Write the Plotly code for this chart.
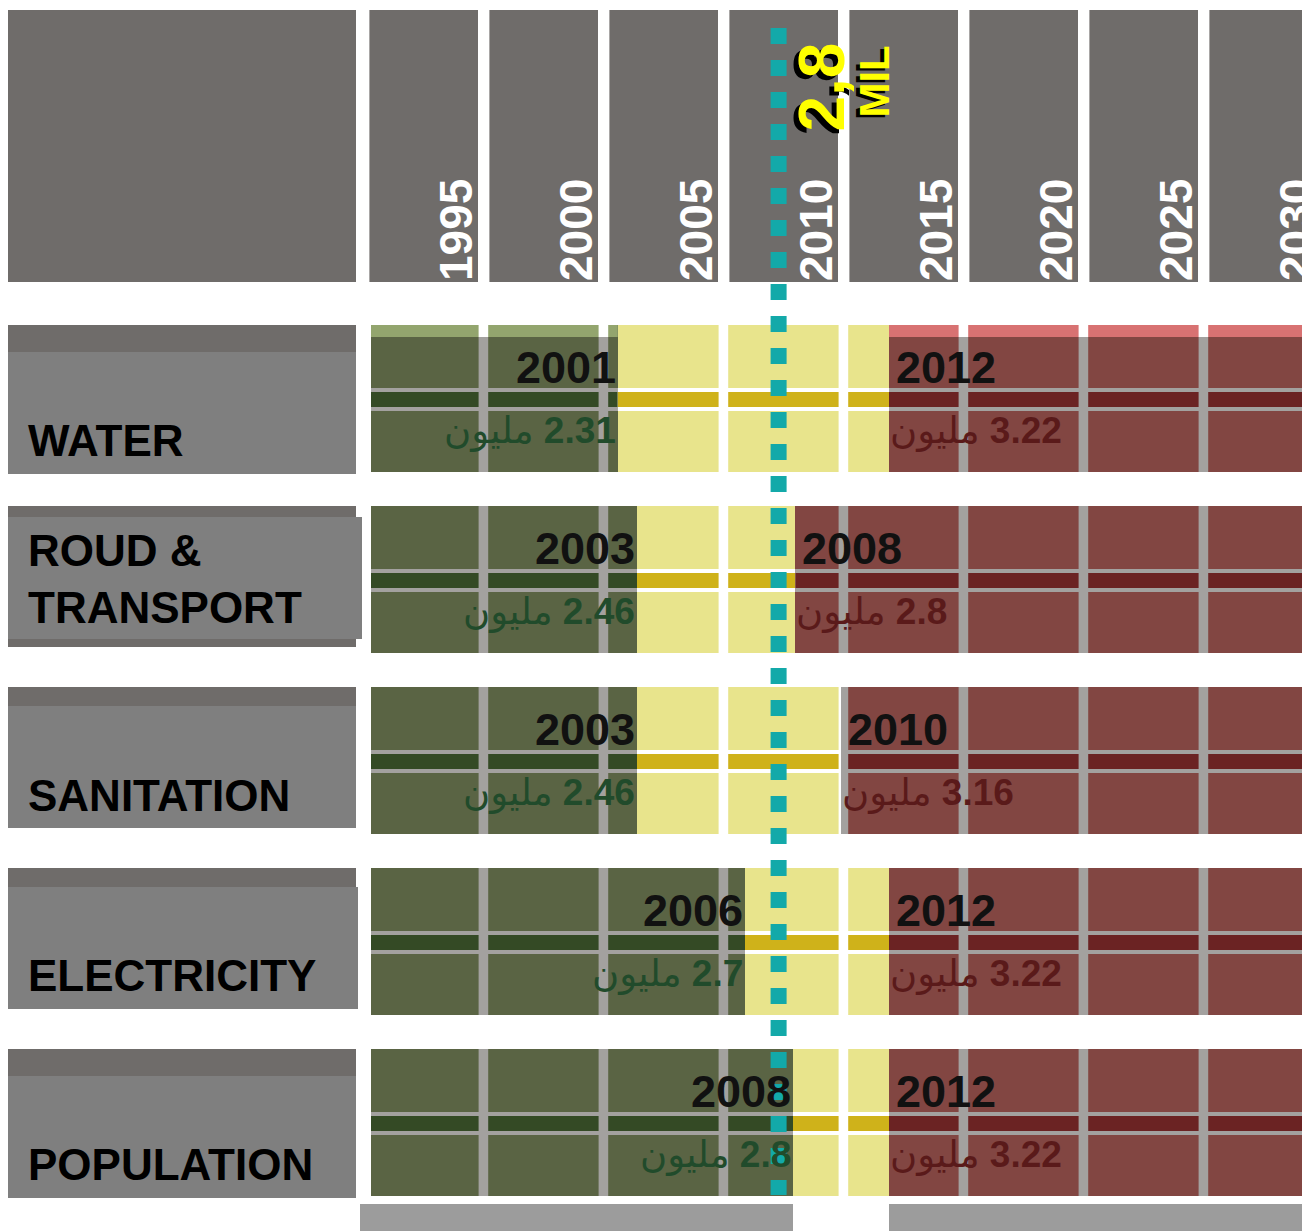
import plotly.graph_objects as go

W, H = 1302, 1231

# ---------------- data ----------------
categories = ["WATER", "ROUD &<br>TRANSPORT", "SANITATION", "ELECTRICITY", "POPULATION"]
start_year_labels = ["2001", "2003", "2003", "2006", "2008"]
start_values = ["2.31", "2.46", "2.46", "2.7", "2.8"]
end_year_labels = ["2012", "2008", "2010", "2012", "2012"]
end_values = ["3.22", "2.8", "3.16", "3.22", "3.22"]
# zone boundaries as they sit on the picture's year axis
green_end = [2000.7, 2001.5, 2001.5, 2006.0, 2008.0]
red_start = [2012.0, 2008.1, 2010.0, 2012.0, 2012.0]

axis_years = [1995, 2000, 2005, 2010, 2015, 2020, 2025, 2030]
marker_year = 2007.4
marker_text = "2,8"
marker_unit = "MIL"
unit_word = "مليون"

# ---------------- styles / layout constants ----------------
HEADER_GRAY = "#6f6c6a"
BOX_GRAY = "#7f7f7f"
GREEN = "#5a6444"
GREEN_BAND = "#344a25"
YELLOW = "#e8e48c"
YELLOW_BAND = "#cfb21a"
RED = "#824642"
RED_BAND = "#6b2323"
GRID = "#a3a19f"
CYAN = "#13a9a9"
FONT = "Liberation Sans, Arial, DejaVu Sans, sans-serif"

# pixel -> year mapping of the picture: 24 px per year, 2006 at x=745
PX_PER_YEAR = 24.0
X_RANGE = [2006 - 745 / PX_PER_YEAR, 2006 + (W - 745) / PX_PER_YEAR]
ROW_X0 = 2006 + (371 - 745) / PX_PER_YEAR
ROW_X1 = 2031

ROW_TOP0, ROW_STEP, ROW_H = 325, 181, 147
row_tops = [ROW_TOP0 + ROW_STEP * i for i in range(len(categories))]
row_centers = [t + ROW_H / 2 for t in row_tops]
label_dy = [115, 73, 108, 107, 115]
box_offset = [27, 11, 19, 19, 27]
dark_h = [27, 141, 19, 19, 27]
box_right = [356, 362, 356, 358, 356]
top_strip = [12, 0, 0, 0, 0]


def px(xp):
    return xp / W


def year_to_paper(y):
    return (y - X_RANGE[0]) / (X_RANGE[1] - X_RANGE[0])


fig = go.Figure()

# zone bars
n = len(categories)
fig.add_trace(go.Bar(orientation="h", y=row_centers, base=[ROW_X0] * n,
                     x=[g - ROW_X0 for g in green_end], width=ROW_H,
                     marker=dict(color=GREEN, line=dict(width=0)), hoverinfo="skip"))
fig.add_trace(go.Bar(orientation="h", y=row_centers, base=green_end,
                     x=[r - g for g, r in zip(green_end, red_start)], width=ROW_H,
                     marker=dict(color=YELLOW, line=dict(width=0)), hoverinfo="skip"))
fig.add_trace(go.Bar(orientation="h", y=row_centers, base=red_start,
                     x=[ROW_X1 - r for r in red_start], width=ROW_H,
                     marker=dict(color=RED, line=dict(width=0)), hoverinfo="skip"))

shapes = []


def rect(x0, x1, y0, y1, color, xref="x", layer="above"):
    shapes.append(dict(type="rect", xref=xref, yref="y", x0=x0, x1=x1, y0=y0, y1=y1,
                       fillcolor=color, line=dict(width=0), layer=layer))


# header
rect(px(8), px(356), 10, 282, HEADER_GRAY, xref="paper")
for L in axis_years:
    rect(L - 4.65, L - 0.125, 10, 282, HEADER_GRAY)

for i, top in enumerate(row_tops):
    bot = top + ROW_H
    # left label boxes
    rect(px(8), px(356), top, top + dark_h[i], HEADER_GRAY, xref="paper")
    rect(px(8), px(box_right[i]), top + box_offset[i], top + box_offset[i] + 122, BOX_GRAY, xref="paper")

    zones = [(ROW_X0, green_end[i], GRID, GREEN_BAND, "#93a56e"),
             (green_end[i], red_start[i], "white", YELLOW_BAND, None),
             (red_start[i], ROW_X1, GRID, RED_BAND, "#d87272")]
    # light top strip
    if top_strip[i]:
        for z0, z1, _, _, sc in zones:
            if sc:
                rect(z0, z1, top, top + top_strip[i], sc)
    # central band
    for z0, z1, outer, inner, _ in zones:
        rect(z0, z1, top + 63, top + 86, outer)
        rect(z0, z1, top + 67, top + 82, inner)
    # vertical gaps
    for L in axis_years:
        g0, g1 = L - 0.1, L + 0.3
        for z0, z1, gc, _, _ in zones:
            a, b = max(g0, z0), min(g1, z1)
            if b > a:
                rect(a, b, top + top_strip[i], bot, gc)
        if top_strip[i]:
            rect(g0, g1, top, top + top_strip[i], "white")

# grey footing under the last row
last_bot = row_tops[-1] + ROW_H + 8
rect(px(360), 1, last_bot, H, "#9c9c9c", xref="paper")
rect(green_end[-1], red_start[-1], last_bot, H, "white")

# cyan marker line
shapes.append(dict(type="line", xref="x", yref="y", x0=marker_year, x1=marker_year,
                   y0=28, y1=1195, layer="above",
                   line=dict(color=CYAN, width=16, dash="16px,16px")))

annotations = []


def ann(**kw):
    base = dict(showarrow=False, xref="x", yref="y")
    base.update(kw)
    annotations.append(base)


for L in axis_years:
    ann(text=f"<b>{L}</b>", xref="paper", x=year_to_paper(L - 0.125), y=283,
        xanchor="right", yanchor="bottom", xshift=6,
        textangle=-90, font=dict(family=FONT, size=46, color="white"))

for i, top in enumerate(row_tops):
    ann(text=f"<b>{categories[i]}</b>", xref="paper", x=px(26), y=top + label_dy[i],
        xanchor="left", yanchor="middle", align="left",
        font=dict(family=FONT, size=44, color="black"))
    ann(text=f"<b>{start_year_labels[i]}</b>", x=green_end[i], y=top + 42,
        xanchor="right", yanchor="middle", xshift=0,
        font=dict(family=FONT, size=45, color="#111111"))
    ann(text=f"{unit_word}\u200e <b>{start_values[i]}</b>", x=green_end[i], y=top + 106,
        xanchor="right", yanchor="middle", xshift=0,
        font=dict(family=FONT, size=37, color="#214b2b"))
    ann(text=f"<b>{end_year_labels[i]}</b>", x=red_start[i], y=top + 42,
        xanchor="left", yanchor="middle", xshift=5,
        font=dict(family=FONT, size=45, color="#111111"))
    ann(text=f"{unit_word}\u200e <b>{end_values[i]}</b>", x=red_start[i], y=top + 106,
        xanchor="left", yanchor="middle", xshift=-1,
        font=dict(family=FONT, size=37, color="#5a1a1a"))

# "2,8 MIL" marker label with black drop shadow
for color, dx, dy in [("black", -5, -4), ("#ffff00", 0, 0)]:
    ann(text=f"<b>{marker_text}</b>", x=marker_year, y=87, xshift=43 + dx, yshift=dy,
        xanchor="center", yanchor="middle", textangle=-90,
        font=dict(family=FONT, size=64, color=color))
    ann(text=f"<b>{marker_unit}</b>", x=marker_year, y=82, xshift=95 + dx * 0.6, yshift=dy * 0.6,
        xanchor="center", yanchor="middle", textangle=-90,
        font=dict(family=FONT, size=42, color=color))

fig.update_layout(
    width=W, height=H,
    margin=dict(l=0, r=0, t=0, b=0),
    paper_bgcolor="white", plot_bgcolor="white",
    barmode="overlay", bargap=0, showlegend=False,
    xaxis=dict(range=X_RANGE, visible=False, fixedrange=True),
    yaxis=dict(range=[H, 0], visible=False, fixedrange=True),
    shapes=shapes, annotations=annotations,
)

fig.write_html("out.html", config={"displayModeBar": False},
               post_script="document.body.style.margin='0';document.body.style.overflow='hidden';")
